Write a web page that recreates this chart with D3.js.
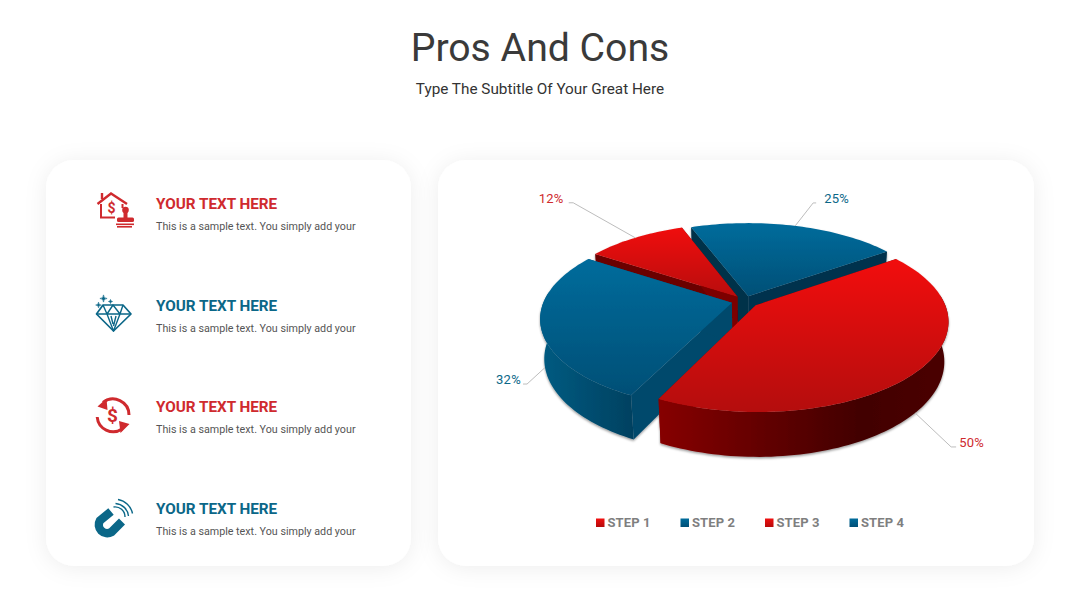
<!DOCTYPE html>
<html><head><meta charset="utf-8">
<script src="https://cdn.jsdelivr.net/npm/d3@7/dist/d3.min.js"></script>
<style>html,body{margin:0;padding:0;background:#fff}svg{display:block}text{font-family:Roboto,sans-serif}</style>
</head><body><svg id="c" width="1080" height="608"></svg>
<script>
const categories = ["STEP 1","STEP 2","STEP 3","STEP 4"];
const seriesValues = [50,32,12,25];
const valueLabels = ["50%","32%","12%","25%"];
const itemHeadings = ["YOUR TEXT HERE","YOUR TEXT HERE","YOUR TEXT HERE","YOUR TEXT HERE"];
const itemBodies = ["This is a sample text. You simply add your","This is a sample text. You simply add your","This is a sample text. You simply add your","This is a sample text. You simply add your"];

const RED="#cf2a2e", TEAL="#0b6788";
const svg=d3.select("#c");
const defs=svg.append("defs");
const sh=defs.append("filter").attr("id","card").attr("x","-15%").attr("y","-15%").attr("width","130%").attr("height","130%");
sh.append("feDropShadow").attr("dx",0).attr("dy",2).attr("stdDeviation",11).attr("flood-color","#000").attr("flood-opacity",.07);
const ps=defs.append("filter").attr("id","pieShadow").attr("x","-10%").attr("y","-10%").attr("width","120%").attr("height","120%");
ps.append("feDropShadow").attr("dx",0).attr("dy",1.5).attr("stdDeviation",1.2).attr("flood-color","#000").attr("flood-opacity",.4);

svg.append("text").attr("x",540).attr("y",61).attr("text-anchor","middle").attr("font-size",39.2).attr("fill","#3a3a3a").text("Pros And Cons");
svg.append("text").attr("x",540).attr("y",94).attr("text-anchor","middle").attr("font-size",15.3).attr("fill","#333").text("Type The Subtitle Of Your Great Here");

[[46,160,365,406],[438,160,596,406]].forEach(r=>svg.append("rect").attr("x",r[0]).attr("y",r[1]).attr("width",r[2]).attr("height",r[3]).attr("rx",28).attr("fill","#fff").attr("filter","url(#card)"));

// left list
const rowY=d3.scalePoint().domain(d3.range(4)).range([209,514]);
itemHeadings.forEach((t,i)=>{
  svg.append("text").attr("x",156).attr("y",rowY(i)).attr("font-size",15.25).attr("font-weight",700).attr("fill",i%2?TEAL:RED).text(t);
  svg.append("text").attr("x",156).attr("y",rowY(i)+21).attr("font-size",10.72).attr("fill","#555").text(itemBodies[i]);
});

// icons
(function(){
  const a=svg.append("g").attr("fill","none").attr("stroke",RED).attr("stroke-width",2);
  a.append("path").attr("d","M97.5 204 L111 193.5 L127 204").attr("stroke-width",2.4);
  a.append("path").attr("d","M102 193 V199").attr("stroke-width",2.4);
  a.append("path").attr("d","M101 204 V217.5 H115 M122.5 204 V208");
  svg.append("text").attr("x",111.5).attr("y",212.5).attr("text-anchor","middle").attr("font-size",14).attr("font-weight",700).attr("fill",RED).text("$");
  const s=svg.append("g").attr("fill",RED);
  s.append("circle").attr("cx",125.5).attr("cy",210).attr("r",3.3);
  s.append("rect").attr("x",123.5).attr("y",211).attr("width",4).attr("height",7);
  s.append("rect").attr("x",117).attr("y",217.5).attr("width",17).attr("height",4.5).attr("rx",1.5);
  s.append("rect").attr("x",116).attr("y",223.5).attr("width",18).attr("height",1.6);
  s.append("rect").attr("x",117).attr("y",226).attr("width",15).attr("height",1.6);

  const d=svg.append("g").attr("fill","none").attr("stroke",TEAL).attr("stroke-width",1.4).attr("stroke-linejoin","round");
  d.append("path").attr("d","M103 305 H123 L131 314 L113.5 331 L96.5 314 Z").attr("stroke-width",1.7);
  d.append("path").attr("d","M96.5 314 H131 M103 305 L107 314 L113.5 331 L120 314 L123 305 M107 314 L113 305 L120 314 M116 316 L113.5 326 M111 316 L113 324");
  const star=(x,y,r)=>`M${x} ${y-r} Q${x} ${y} ${x+r} ${y} Q${x} ${y} ${x} ${y+r} Q${x} ${y} ${x-r} ${y} Q${x} ${y} ${x} ${y-r}Z`;
  const sp=svg.append("g").attr("fill",TEAL).attr("stroke",TEAL).attr("stroke-width",.6);
  sp.append("path").attr("d",star(103.5,298.5,3.6));
  sp.append("path").attr("d",star(98.5,305,2.8));
  sp.append("path").attr("d",star(110.5,301.5,2));

  const c=svg.append("g").attr("fill","none").attr("stroke",RED).attr("stroke-width",3);
  c.append("path").attr("d","M103 402.5 A16 16 0 0 1 129 415");
  c.append("path").attr("d","M97.2 417 A16 16 0 0 0 122 429");
  svg.append("path").attr("d","M97.5 406.5 L106.5 398.5 L107.5 410 Z M129.5 424 L120.5 433 L119 421 Z").attr("fill",RED);
  svg.append("text").attr("x",112.5).attr("y",421.5).attr("text-anchor","middle").attr("font-size",19).attr("font-weight",700).attr("fill",RED).text("$");

  const m=svg.append("g").attr("fill","none").attr("stroke",TEAL);
  m.append("path").attr("d","M111 511.5 L100 520.5 A8.4 8.4 0 0 0 111.5 532 L122 521.5").attr("stroke-width",8.5);
  m.append("path").attr("d","M118 499.5 A18 18 0 0 1 132.5 513.5 M115.5 503.5 A14 14 0 0 1 128.5 516 M113.5 507 A10 10 0 0 1 125 517").attr("stroke-width",1.4);
})();

// pie geometry
const C={x:745,y:301}, R=188, B=87, H=40, P=0.17, Q=0.02;
const sliceExplode=[14,13.5,12,11];
const topStops=[["#f21010","#b40a0a"],["#006c9c","#004f76"],["#f01010","#b80a0a"],["#006c9c","#004f76"]];
const wallStops=[
  [[659,"#860505"],[770,"#600000"],[860,"#420000"],[950,"#4a0000"]],
  [[545,"#005a80"],[640,"#003f5e"]],
  [[590,"#6a0000"],[700,"#6a0000"]],
  [[700,"#00334c"],[880,"#00334c"]]
];
const radialColor=[["#5a0000","#7a0000"],["#00496c","#00496c"],["#6a0000","#7c0000"],["#00324a","#00334e"]];
const project=(u,v,z)=>{const w=1-P*v+Q*z;return [C.x+R*u/w,C.y+(B*v+H*z)/w];};
const pie=d3.pie().sort(null).startAngle(-35*Math.PI/180).endAngle(325*Math.PI/180);
const arcs=pie(seriesValues).map((d,i)=>{
  const mid=(d.startAngle+d.endAngle)/2, e=sliceExplode[i]/R;
  return {i,start:d.startAngle,end:d.endAngle,mid,ox:e*Math.cos(mid),oy:e*Math.sin(mid)};
});
const pt=(s,a,r,z)=>project(s.ox+r*Math.cos(a),s.oy+r*Math.sin(a),z);
const line=d3.line();
const pieG=svg.append("g");
const body=pieG.append("g").attr("filter","url(#pieShadow)");
const drawOrder=[3,2,1,0];
drawOrder.forEach(i=>{
  const s=arcs[i], g=body.append("g");
  const angles=d3.range(s.start,s.end,Math.PI/120).concat([s.end]);
  [[s.start,0],[s.end,1]].forEach(([a,k])=>{
    const q=[pt(s,a,0,0),pt(s,a,1,0),pt(s,a,1,1),pt(s,a,0,1)];
    g.append("path").attr("d",line(q)+"Z").attr("fill",radialColor[i][k]);
  });
  const front=angles.filter(a=>Math.sin(a)>-0.12);
  if(front.length>1){
    const stops=wallStops[i], wid="wall"+i;
    const x0=stops[0][0], x1=stops[stops.length-1][0];
    const wg=defs.append("linearGradient").attr("id",wid).attr("gradientUnits","userSpaceOnUse").attr("x1",x0).attr("x2",x1).attr("y1",0).attr("y2",0);
    stops.forEach(t=>wg.append("stop").attr("offset",(t[0]-x0)/(x1-x0)).attr("stop-color",t[1]));
    const poly=front.map(a=>pt(s,a,1,0)).concat(front.slice().reverse().map(a=>pt(s,a,1,1)));
    g.append("path").attr("d",line(poly)+"Z").attr("fill",`url(#${wid})`);
  }
  const face=[pt(s,s.mid,0,0)].concat(angles.map(a=>pt(s,a,1,0)));
  const ys=face.map(p=>p[1]);
  const id="top"+i;
  const lg=defs.append("linearGradient").attr("id",id).attr("gradientUnits","userSpaceOnUse").attr("x1",0).attr("x2",0).attr("y1",d3.min(ys)).attr("y2",d3.max(ys));
  lg.append("stop").attr("offset",0).attr("stop-color",topStops[i][0]);
  lg.append("stop").attr("offset",1).attr("stop-color",topStops[i][1]);
  g.append("path").attr("d",line(face)+"Z").attr("fill",`url(#${id})`);
});

// leader lines + labels
const labelColor=[RED,TEAL,RED,TEAL];
const leaderOffset=[[36,34],[-18,16.5],[-62,-35],[18,-23]];
const tailLen=[5,-4,-4.5,3];
const labelGap=[3,2,5,8];
arcs.forEach(s=>{
  const z=Math.sin(s.mid)>0?1:0;
  const a=pt(s,s.mid,1,z);
  const b=[a[0]+leaderOffset[s.i][0],a[1]+leaderOffset[s.i][1]];
  const c=[b[0]+tailLen[s.i],b[1]];
  const dir=Math.sign(tailLen[s.i]);
  pieG.append("path").attr("d",line([a,b,c])).attr("fill","none").attr("stroke","#bdbdbd").attr("stroke-width",1);
  pieG.append("text").attr("x",c[0]+dir*labelGap[s.i]).attr("y",c[1])
    .attr("text-anchor",dir>0?"start":"end").attr("font-size",13).attr("letter-spacing",.3).attr("fill",labelColor[s.i]).text(valueLabels[s.i]);
});

// legend
const legX=d3.scalePoint().domain(categories).range([596,849.5]);
categories.forEach((c,i)=>{
  const x=legX(c), id="leg"+i;
  const lg=defs.append("linearGradient").attr("id",id).attr("x1",0).attr("x2",0).attr("y1",0).attr("y2",1);
  lg.append("stop").attr("offset",0).attr("stop-color",topStops[i][0]);
  lg.append("stop").attr("offset",1).attr("stop-color",topStops[i][1]);
  svg.append("rect").attr("x",x).attr("y",518.5).attr("width",8.5).attr("height",8.5).attr("fill",`url(#${id})`);
  svg.append("text").attr("x",x+11.5).attr("y",527).attr("font-size",13).attr("font-weight",700).attr("letter-spacing",.1).attr("fill","#7f7f7f").text(c);
});
</script></body></html>
